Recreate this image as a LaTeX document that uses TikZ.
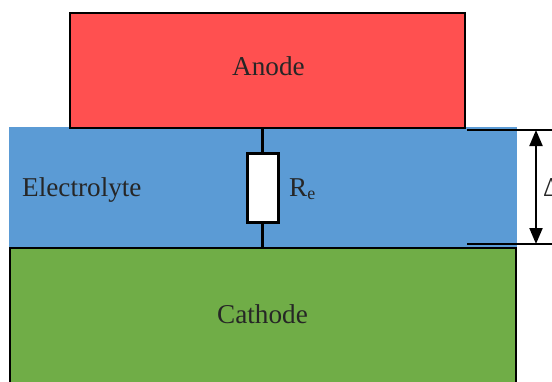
\documentclass[tikz,border=0pt]{standalone}
\usepackage{fontspec}
\setmainfont{Liberation Serif}
\usepackage{xcolor}
\usepackage{tikz}
\usetikzlibrary{positioning,arrows.meta}
\definecolor{anodered}{HTML}{FF5050}
\definecolor{electroblue}{HTML}{5B9BD5}
\definecolor{cathgreen}{HTML}{70AD47}
\definecolor{ink}{HTML}{262626}
\tikzset{
  lyr/.style={rectangle,draw=black,line width=2pt,inner sep=0pt,outer sep=0pt,anchor=north west},
  lbl/.style={inner sep=0pt,text=ink,font=\fontsize{27.2}{30}\selectfont},
  res/.style={rectangle,draw=black,line width=3pt,fill=white,inner sep=0pt,outer sep=0pt,
    minimum width=31pt,minimum height=69pt},
  wire/.style={draw=black,line width=3pt},
  lim/.style={draw=black,line width=2pt},
  ar/.style={{Triangle[length=16pt,width=13pt]}-{Triangle[length=16pt,width=13pt]},draw=black,line width=2pt},
}
\begin{document}
\begin{tikzpicture}[x=1pt,y=-1pt]
  \useasboundingbox (0,0) rectangle (552,381);
  % layers
  \node[lyr,draw=none,fill=electroblue,minimum width=508pt,minimum height=121pt] (electrolyte) at (9,127) {};
  \node[lyr,fill=anodered,minimum width=395pt,minimum height=115pt] (anode) at (70,13) {};
  \node[lyr,fill=cathgreen,minimum width=506pt,minimum height=145pt] (cathode) at (10,248) {};
  \node[lbl] (anodetxt) at (268.5,66) {Anode};
  \node[lbl] (cathodetxt) at (262.5,314) {Cathode};
  \node[lbl,anchor=west] (electrotxt) at (22,190) {Electrolyte};
  % resistor
  \node[res] (re) at (262.5,187.5) {};
  \node[lbl,anchor=west] (retxt) at (289,189) {R\raisebox{-3pt}{\fontsize{18}{18}\selectfont e}};
  \draw[wire] (anode.south -| re.north) -- (re.north);
  \draw[wire] (re.south) -- (cathode.north -| re.south);
  % thickness
  \coordinate (t0) at (467,129.5);
  \coordinate (t1) at (552,129.5);
  \coordinate (b0) at (467,244);
  \coordinate (b1) at (552,244);
  \draw[lim] (t0) -- (t1);
  \draw[lim] (b0) -- (b1);
  \coordinate (at) at (536,130);
  \coordinate (ab) at (536,244);
  \draw[ar] (at) -- (ab);
  \node[lbl,anchor=west] (delta) at (543,188) {Δ};
\end{tikzpicture}
\end{document}
